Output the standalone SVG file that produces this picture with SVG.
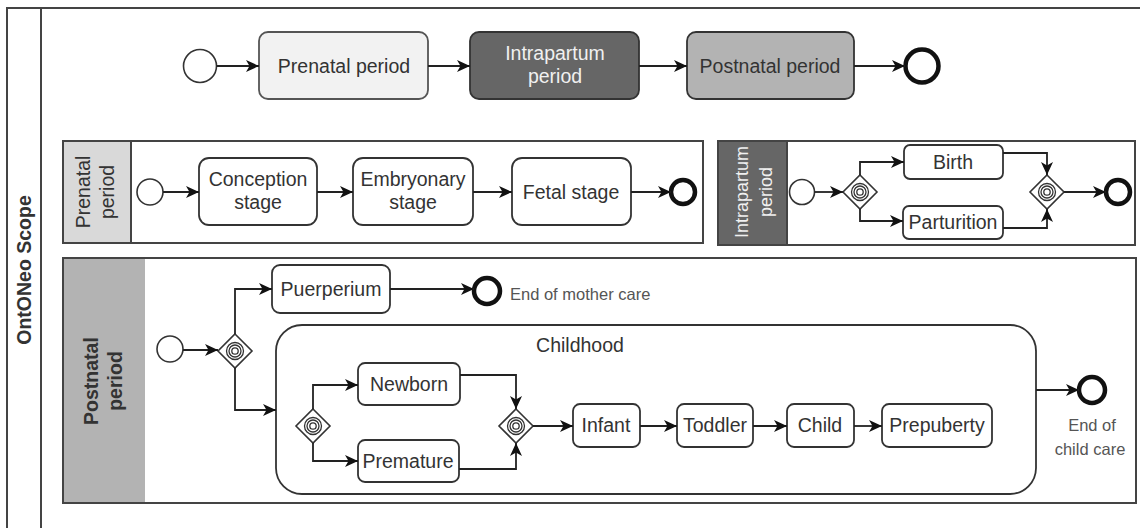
<svg xmlns="http://www.w3.org/2000/svg" width="1140" height="528" viewBox="0 0 1140 528">
  <style>
    .t { font-family: "Liberation Sans", Arial, sans-serif; font-size: 19.5px; fill: #333; text-anchor: middle; }
    .tb { font-weight: bold; }
    .note { font-family: "Liberation Sans", Arial, sans-serif; font-size: 16.5px; fill: #555; }
    .box { fill: #fff; stroke: #333; stroke-width: 1.8; }
    .lane { fill: #fff; stroke: #444; stroke-width: 2; }
    .start { fill: #fff; stroke: #333; stroke-width: 1.6; }
    .end { fill: #fff; stroke: #111; stroke-width: 4.5; }
    .gw { fill: #fff; stroke: #333; stroke-width: 1.6; }
    .gwi { fill: none; stroke: #333; stroke-width: 1.3; }
    .edge { fill: none; stroke: #222; stroke-width: 1.8; marker-end: url(#arrow); }
  </style>
  <defs>
    <marker id="arrow" markerUnits="userSpaceOnUse" markerWidth="13" markerHeight="12" refX="13" refY="6" orient="auto">
      <path d="M0,0 L13,6 L0,12 L3.5,6 z" fill="#111"/>
    </marker>
    <!-- event-based gateway: diamond with concentric rings -->
    <g id="gate">
      <path class="gw" d="M0,-17 L17,0 L0,17 L-17,0 z"/>
      <circle class="gwi" r="8.5"/>
      <circle class="gwi" r="6"/>
      <circle class="gwi" r="3.2"/>
    </g>
  </defs>

  <rect width="1140" height="528" fill="#fff"/>

  <!-- outer pool -->
  <g id="pool">
    <rect x="7" y="8" width="1140" height="540" fill="none" stroke="#444" stroke-width="2"/>
    <line x1="41" y1="8" x2="41" y2="548" stroke="#444" stroke-width="2"/>
    <text class="t tb" transform="translate(31,270) rotate(-90)">OntONeo Scope</text>
  </g>

  <!-- top-level flow -->
  <g id="top-start"><circle class="start" cx="200" cy="66" r="16.5"/></g>
  <g id="top-prenatal">
    <rect x="259" y="32" width="169" height="67" rx="9" fill="#f2f2f2" stroke="#555" stroke-width="1.8"/>
    <text class="t" x="344" y="73">Prenatal period</text>
  </g>
  <g id="top-intrapartum">
    <rect x="470" y="32" width="169" height="67" rx="9" fill="#666" stroke="#333" stroke-width="1.8"/>
    <text class="t" x="555" y="60" style="fill:#f0f0f0">Intrapartum</text>
    <text class="t" x="555" y="83" style="fill:#f0f0f0">period</text>
  </g>
  <g id="top-postnatal">
    <rect x="687" y="32" width="167" height="67" rx="9" fill="#b3b3b3" stroke="#333" stroke-width="1.8"/>
    <text class="t" x="770" y="73">Postnatal period</text>
  </g>
  <g id="top-end"><circle class="end" cx="922" cy="66" r="16.5"/></g>

  <!-- prenatal lane -->
  <g id="lane-prenatal">
    <rect class="lane" x="63" y="141" width="640" height="102"/>
    <rect x="64" y="142" width="67" height="100" fill="#d9d9d9"/>
    <line x1="131" y1="141" x2="131" y2="243" stroke="#444" stroke-width="2"/>
    <text class="t" transform="translate(90,192) rotate(-90)">Prenatal</text>
    <text class="t" transform="translate(114,192) rotate(-90)">period</text>
  </g>
  <g id="pre-start"><circle class="start" cx="150" cy="192" r="13"/></g>
  <g id="conception">
    <rect class="box" x="199" y="158" width="118" height="67" rx="10"/>
    <text class="t" x="258" y="186">Conception</text>
    <text class="t" x="258" y="209">stage</text>
  </g>
  <g id="embryonary">
    <rect class="box" x="353" y="158" width="120" height="67" rx="10"/>
    <text class="t" x="413" y="186">Embryonary</text>
    <text class="t" x="413" y="209">stage</text>
  </g>
  <g id="fetal">
    <rect class="box" x="512" y="158" width="119" height="67" rx="10"/>
    <text class="t" x="571" y="199">Fetal stage</text>
  </g>
  <g id="pre-end"><circle class="end" cx="683" cy="192" r="12"/></g>

  <!-- intrapartum lane -->
  <g id="lane-intrapartum">
    <rect class="lane" x="718" y="141" width="417" height="104"/>
    <rect x="719" y="142" width="68" height="102" fill="#666"/>
    <line x1="787" y1="141" x2="787" y2="245" stroke="#444" stroke-width="2"/>
    <text class="t" transform="translate(748,192) rotate(-90)" style="fill:#f0f0f0;font-size:18px">Intrapartum</text>
    <text class="t" transform="translate(772,192) rotate(-90)" style="fill:#f0f0f0;font-size:18px">period</text>
  </g>
  <g id="intra-start"><circle class="start" cx="802" cy="192" r="12.5"/></g>
  <g id="intra-split"><use href="#gate" x="860" y="192"/></g>
  <g id="birth">
    <rect class="box" x="904" y="145" width="99" height="34" rx="6"/>
    <text class="t" x="953" y="169">Birth</text>
  </g>
  <g id="parturition">
    <rect class="box" x="903" y="206" width="100" height="33" rx="6"/>
    <text class="t" x="953" y="229">Parturition</text>
  </g>
  <g id="intra-join"><use href="#gate" x="1047" y="192"/></g>
  <g id="intra-end"><circle class="end" cx="1118" cy="192" r="12"/></g>

  <!-- postnatal lane -->
  <g id="lane-postnatal">
    <rect class="lane" x="63" y="258" width="1073" height="245"/>
    <rect x="64" y="259" width="81" height="243" fill="#b3b3b3"/>
    <text class="t tb" transform="translate(98,381) rotate(-90)">Postnatal</text>
    <text class="t tb" transform="translate(122,381) rotate(-90)">period</text>
  </g>
  <g id="post-start"><circle class="start" cx="170" cy="349" r="13"/></g>
  <g id="post-split"><use href="#gate" x="235" y="351"/></g>
  <g id="puerperium">
    <rect class="box" x="272" y="265" width="118" height="48" rx="8"/>
    <text class="t" x="331" y="296">Puerperium</text>
  </g>
  <g id="mother-end">
    <circle class="end" cx="487" cy="291" r="13"/>
    <text class="note" x="510" y="300">End of mother care</text>
  </g>
  <g id="childhood">
    <rect class="box" x="276" y="325" width="760" height="169" rx="26"/>
    <text class="t" x="580" y="352">Childhood</text>
  </g>
  <g id="child-split"><use href="#gate" x="313" y="426"/></g>
  <g id="newborn">
    <rect class="box" x="358" y="363" width="102" height="42" rx="7"/>
    <text class="t" x="409" y="391">Newborn</text>
  </g>
  <g id="premature">
    <rect class="box" x="358" y="440" width="101" height="42" rx="7"/>
    <text class="t" x="408" y="468">Premature</text>
  </g>
  <g id="child-join"><use href="#gate" x="516" y="426"/></g>
  <g id="infant">
    <rect class="box" x="573" y="404" width="67" height="43" rx="7"/>
    <text class="t" x="606" y="432">Infant</text>
  </g>
  <g id="toddler">
    <rect class="box" x="677" y="404" width="76" height="43" rx="7"/>
    <text class="t" x="715" y="432">Toddler</text>
  </g>
  <g id="child">
    <rect class="box" x="787" y="404" width="67" height="43" rx="7"/>
    <text class="t" x="820" y="432">Child</text>
  </g>
  <g id="prepuberty">
    <rect class="box" x="882" y="404" width="110" height="43" rx="7"/>
    <text class="t" x="937" y="432">Prepuberty</text>
  </g>
  <g id="child-end">
    <circle class="end" cx="1092" cy="390" r="13"/>
    <text class="note" x="1092" y="431" text-anchor="middle">End of</text>
    <text class="note" x="1090" y="455" text-anchor="middle">child care</text>
  </g>

  <!-- sequence flows -->
  <g id="connectors">
    <path class="edge" d="M216.5,66 H259"/>
    <path class="edge" d="M428,66 H470"/>
    <path class="edge" d="M639,66 H687"/>
    <path class="edge" d="M854,66 H905"/>

    <path class="edge" d="M163,192 H199"/>
    <path class="edge" d="M317,192 H353"/>
    <path class="edge" d="M473,192 H512"/>
    <path class="edge" d="M631,192 H671"/>

    <path class="edge" d="M814.5,192 H843"/>
    <path class="edge" d="M860,175 V162 H904"/>
    <path class="edge" d="M860,209 V221 H903"/>
    <path class="edge" d="M1003,153 H1047 V175"/>
    <path class="edge" d="M1003,228 H1047 V209"/>
    <path class="edge" d="M1064,192 H1106"/>

    <path class="edge" d="M183,350 H218"/>
    <path class="edge" d="M235,334 V289 H272"/>
    <path class="edge" d="M235,368 V410 H276"/>
    <path class="edge" d="M390,289 H474"/>
    <path class="edge" d="M1036,390 H1079"/>
    <path class="edge" d="M313,409 V385 H358"/>
    <path class="edge" d="M313,443 V461 H358"/>
    <path class="edge" d="M460,375 H516 V409"/>
    <path class="edge" d="M459,469 H516 V443"/>
    <path class="edge" d="M533,426 H573"/>
    <path class="edge" d="M640,426 H677"/>
    <path class="edge" d="M753,426 H787"/>
    <path class="edge" d="M854,426 H882"/>
  </g>
</svg>
